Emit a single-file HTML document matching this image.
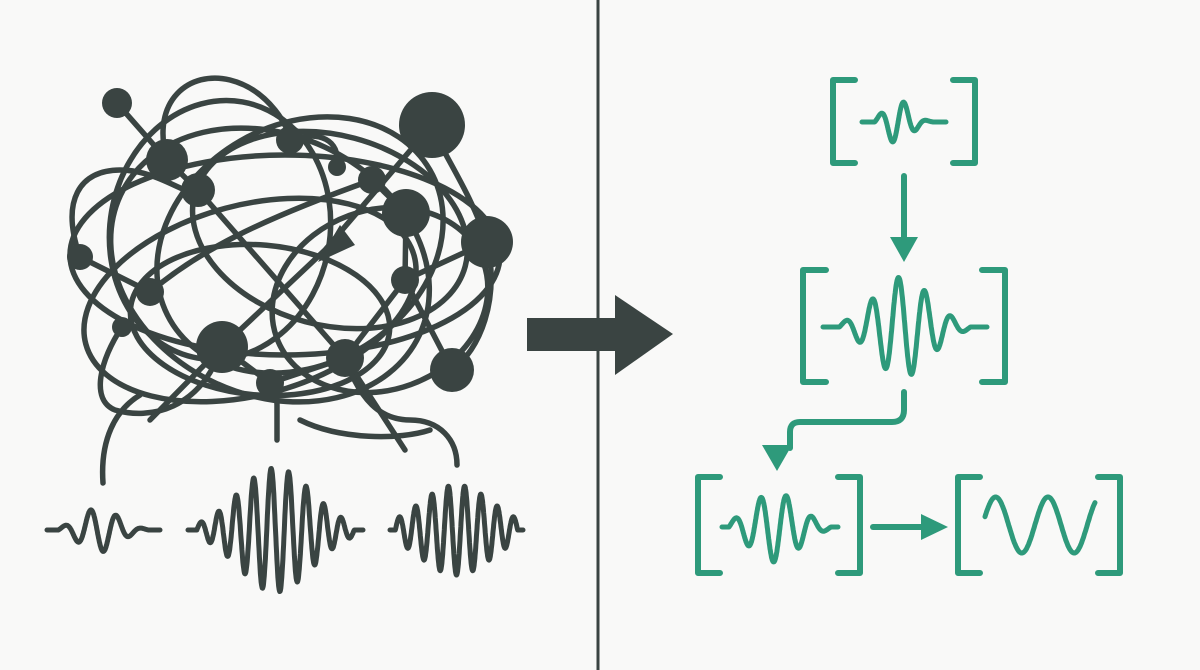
<!DOCTYPE html>
<html><head><meta charset="utf-8"><style>
html,body{margin:0;padding:0;background:#f9f9f8;}
svg{display:block}
</style></head><body>
<svg id="s" width="1200" height="670" viewBox="0 0 1200 670" xmlns="http://www.w3.org/2000/svg">
<rect width="1200" height="670" fill="#f9f9f8"/>
<line x1="598" y1="0" x2="598" y2="670" stroke="#3a4442" stroke-width="3"/>
<g fill="none" stroke="#3a4442" stroke-width="5.5" stroke-linecap="round">
<ellipse cx="285" cy="255" rx="215" ry="100"/>
<ellipse cx="270" cy="265" rx="165" ry="130" transform="rotate(25 270 265)"/>
<ellipse cx="300" cy="245" rx="150" ry="120" transform="rotate(-30 300 245)"/>
<ellipse cx="250" cy="300" rx="170" ry="95" transform="rotate(-15 250 300)"/>
<ellipse cx="330" cy="230" rx="140" ry="95" transform="rotate(15 330 230)"/>
<ellipse cx="220" cy="230" rx="110" ry="130" transform="rotate(10 220 230)"/>
<ellipse cx="380" cy="300" rx="110" ry="90" transform="rotate(-20 380 300)"/>
<ellipse cx="260" cy="320" rx="130" ry="75" transform="rotate(5 260 320)"/>
<path d="M167 160 C150 100 190 70 230 80 C270 90 290 130 290 140"/>
<path d="M117 103 L167 160 L198 190 L345 358 L405 450"/>
<path d="M290 140 C320 130 340 140 337 165"/>
<path d="M432 125 L325 250 L222 347 L150 420"/>
<path d="M80 257 C60 200 80 170 120 170 C160 170 190 200 198 190"/>
<path d="M487 242 L405 280 L345 358 L270 383 L222 347"/>
<path d="M452 370 C480 350 500 300 487 242 C470 190 440 150 432 125"/>
<path d="M122 327 C100 360 90 400 115 410 C150 420 200 410 222 347"/>
<path d="M372 180 L406 213 L405 280 L452 370"/>
<path d="M150 292 L80 257"/>
<path d="M103 483 C100 440 115 410 140 395"/>
<path d="M277 440 L277 405 C277 390 272 385 270 383"/>
<path d="M457 465 C457 440 440 420 410 420 C380 420 360 400 345 358"/>
<path d="M300 420 C340 440 400 440 430 430"/>
<path d="M150 292 C200 250 260 220 372 180"/>
</g>
<g fill="#3a4442">
<circle cx="117" cy="103" r="15"/><circle cx="167" cy="160" r="21"/><circle cx="198" cy="190" r="17"/>
<circle cx="290" cy="140" r="14"/><circle cx="337" cy="167" r="9"/><circle cx="432" cy="125" r="33"/>
<circle cx="372" cy="180" r="14"/><circle cx="406" cy="213" r="24"/><circle cx="487" cy="242" r="26"/>
<circle cx="80" cy="257" r="13"/><circle cx="150" cy="292" r="14"/><circle cx="122" cy="327" r="10"/>
<circle cx="222" cy="347" r="26"/><circle cx="270" cy="383" r="14"/><circle cx="345" cy="358" r="19"/>
<circle cx="405" cy="280" r="14"/><circle cx="452" cy="370" r="22"/>
<polygon points="318,262 340,225 355,245"/>
<rect x="527" y="318" width="92" height="33"/>
<polygon points="615,295 673,334 615,375"/>
</g>
<g id="waves" fill="none" stroke-linecap="round" stroke-linejoin="round"></g>
<g fill="none" stroke="#2e9a7b" stroke-width="6" stroke-linecap="round" stroke-linejoin="round">
<path d="M855 80 H833 V163 H855 M953 80 H975 V163 H953"/>
<path d="M826 270 H803 V382 H826 M982 270 H1005 V382 H982"/>
<path d="M720 477 H698 V573 H720 M838 477 H860 V573 H838"/>
<path d="M980 477 H958 V573 H980 M1098 477 H1120 V573 H1098"/>
<path d="M904 176 V240"/>
<path d="M904 392 V410 Q904 422 892 422 H800 Q790 422 790 432 V448"/>
<path d="M873 527 H925"/>
</g>
<g fill="#2e9a7b">
<polygon points="890,237 918,237 904,262"/>
<polygon points="762,445 792,445 777,471"/>
<polygon points="921,514 948,527 921,540"/>
</g>
</svg>
<script>
function wave(x0,x1,y,amp,cyc,c,w,flat){
 var d="",n=500;
 for(var i=0;i<=n;i++){var t=i/n,x=x0+(x1-x0)*t;
  var v=0;
  if(t>flat&&t<1-flat){var u=(t-flat)/(1-2*flat);
   var env=Math.exp(-Math.pow((u-c)/w,2));
   v=-amp*env*Math.sin(2*Math.PI*cyc*u);}
  d+=(i?"L":"M")+x.toFixed(1)+" "+(y+v).toFixed(1);}
 return d;}
var g=document.getElementById("waves"),ns="http://www.w3.org/2000/svg";
function add(d,col,sw){var p=document.createElementNS(ns,"path");p.setAttribute("d",d);p.setAttribute("stroke",col);p.setAttribute("stroke-width",sw);g.appendChild(p);}
var D="#3a4442",G="#2e9a7b";
add(wave(47,160,530,22,3.5,0.45,0.3,0.1),D,5);
add(wave(188,363,530,62,9,0.5,0.33,0.05),D,5);
add(wave(390,523,530,45,7.5,0.5,0.42,0.04),D,5);
add(wave(862,946,122,22,2.5,0.4,0.3,0.15),G,5);
add(wave(823,987,327,50,5,0.48,0.3,0.1),G,5);
add(wave(722,838,527,35,4,0.45,0.33,0.06),G,5);
var d="";for(var i=0;i<=200;i++){var t=i/200,x=985+110*t;d+=(i?"L":"M")+x.toFixed(1)+" "+(525-28*Math.sin(2*Math.PI*2.1*t+0.3)).toFixed(1);}
add(d,G,5);
</script>
</body></html>
